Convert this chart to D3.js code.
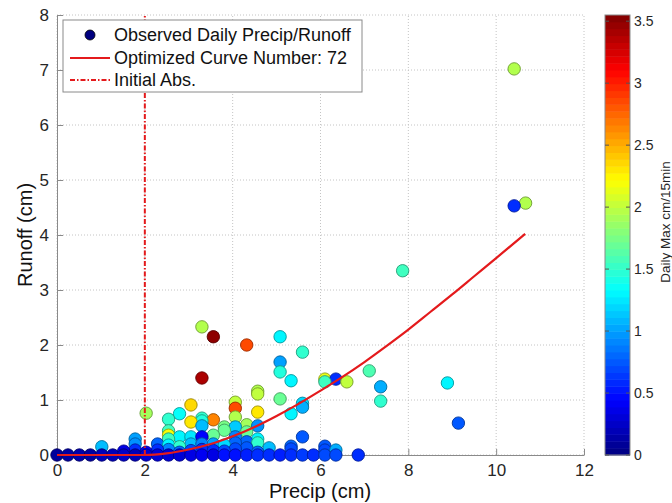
<!DOCTYPE html>
<html><head><meta charset="utf-8">
<script src="https://cdn.jsdelivr.net/npm/d3@7"></script>
<style>body{margin:0;background:#fff}svg{display:block;font-family:"Liberation Sans",Arial,sans-serif}</style>
</head><body><svg id="c" width="672" height="503"></svg>
<script>
// Observed points: precip (cm), runoff (cm), daily max intensity (cm/15min)
const precip = [
0,0.25,0.51,0.76,1.02,1.02,1.27,1.52,1.52,1.78,1.78,1.78,1.78,
2.03,2.03,2.03,2.29,2.29,2.29,
2.54,2.54,2.54,2.54,2.54,2.54,2.54,
2.79,2.79,2.79,2.79,2.79,
3.05,3.05,3.05,3.05,3.05,3.05,
3.30,3.30,3.30,3.30,3.30,3.30,3.30,3.30,3.30,
3.56,3.56,3.56,3.56,3.56,3.56,
3.81,3.81,3.81,3.81,3.81,
4.06,4.06,4.06,4.06,4.06,4.06,4.06,4.06,
4.32,4.32,4.32,4.32,4.32,4.32,
4.57,4.57,4.57,4.57,4.57,4.57,4.57,4.57,
4.83,4.83,
5.08,5.08,5.08,5.08,5.08,
5.33,5.33,5.33,5.33,5.33,
5.59,5.59,5.59,5.59,5.59,
5.84,
6.10,6.10,6.10,6.10,6.10,
6.35,6.35,6.35,
6.60,6.86,7.11,7.37,7.37,7.87,8.89,9.14,10.41,10.41,10.67];
const runoff = [
0,0,0,0,0,0.15,0,0,0.07,0,0.29,0.20,0.09,
0,0.76,0.05,0,0.20,0.09,
0,0.65,0.44,0.36,0.29,0.18,0.10,
0,0.75,0.33,0.15,0.05,
0,0.91,0.60,0.33,0.20,0.08,
0,2.33,1.40,0.67,0.62,0.53,0.33,0.20,0.10,
0,2.15,0.64,0.36,0.20,0.08,
0,0.51,0.45,0.18,0.07,
0,0.96,0.85,0.69,0.51,0.33,0.22,0.11,
0,2.00,0.55,0.42,0.24,0.13,
0,1.16,1.11,0.78,0.53,0.29,0.22,0.05,
0,0.13,
0,2.15,1.69,1.51,1.02,
0,1.35,0.75,0.16,0.11,
0,1.87,0.94,0.87,0.33,
0,
0,1.38,1.33,0.16,0.09,
0,1.38,0.09,
1.33,0,1.53,1.24,0.98,3.35,1.31,0.58,7.02,4.53,4.58];
const intensity = [
0.10,0.12,0.15,0.12,0.20,1.10,0.20,0.25,0.35,0.20,1.00,0.95,0.60,
0.30,1.90,0.40,0.30,0.80,0.60,
0.30,1.50,1.55,2.20,1.55,1.30,0.90,
0.30,1.35,1.30,1.50,0.80,
0.35,2.35,2.30,1.25,1.10,0.70,
0.40,1.95,3.40,1.50,1.45,1.10,0.45,0.90,0.60,
0.35,3.50,2.65,1.70,1.00,0.60,
0.50,1.75,1.70,1.20,0.70,
0.50,2.00,2.85,1.95,1.15,0.90,0.80,0.70,
0.55,2.85,1.90,1.70,0.80,0.75,
0.60,1.95,2.00,2.30,0.95,1.30,1.50,0.80,
0.60,1.10,
0.55,1.30,1.00,1.45,1.70,
0.60,1.30,1.30,0.80,0.70,
0.65,1.50,1.20,1.05,0.75,
0.60,
0.70,2.15,1.55,0.75,0.70,
0.70,0.60,1.05,
2.00,0.60,1.60,1.05,1.50,1.55,1.30,0.75,1.95,0.60,1.95];

// Optimized curve (CN 72)
const curvePrecip = [0,1.0,2.0,2.5,3.0,3.5,4.0,4.5,5.0,5.5,6.0,6.5,7.0,7.5,8.0,8.5,9.0,9.5,10.0,10.66];
const curveRunoff = [0,0,0,0.03,0.10,0.20,0.34,0.51,0.71,0.93,1.17,1.42,1.69,1.98,2.28,2.60,2.92,3.25,3.58,4.02];
const initialAbs = 2.0;

const xTicks = [0,2,4,6,8,10,12];
const yTicks = [0,1,2,3,4,5,6,7,8];
const cTicks = [0,0.5,1,1.5,2,2.5,3,3.5];
const legendLabels = ["Observed Daily Precip/Runoff","Optimized Curve Number: 72","Initial Abs."];

const svg = d3.select("#c");
const x = d3.scaleLinear().domain([0,12]).range([57,584]);
const y = d3.scaleLinear().domain([0,8]).range([455,15]);
const cmax = 3.55;
const cs = d3.scaleLinear().domain([0,cmax]).range([455,15]);
const clamp = v => Math.max(0, Math.min(1, v));
function jet(t){
  const r = clamp(Math.min(4*t-1.5, -4*t+4.5));
  const g = clamp(Math.min(4*t-0.5, -4*t+3.5));
  const b = clamp(Math.min(4*t+0.5, -4*t+2.5));
  return d3.rgb(r*255, g*255, b*255);
}
const color = c => jet(clamp(c/cmax));

// grid
const grid = svg.append("g").attr("stroke","#c4c4c4").attr("stroke-dasharray","1,2").attr("stroke-width",1);
xTicks.forEach(t => grid.append("line").attr("x1",x(t)).attr("x2",x(t)).attr("y1",y(0)).attr("y2",y(8)));
yTicks.forEach(t => grid.append("line").attr("x1",x(0)).attr("x2",x(12)).attr("y1",y(t)).attr("y2",y(t)));

// axes
const xAxis = d3.axisBottom(x).tickValues(xTicks).tickSizeInner(-6).tickSizeOuter(0).tickPadding(9);
const yAxis = d3.axisLeft(y).tickValues(yTicks).tickSizeInner(-6).tickSizeOuter(0).tickPadding(8);
const gx = svg.append("g").attr("transform",`translate(0,${y(0)})`).call(xAxis);
const gy = svg.append("g").attr("transform",`translate(${x(0)},0)`).call(yAxis);
[gx,gy].forEach(g=>{
  g.select(".domain").attr("stroke","#8a8a8a");
  g.selectAll(".tick line").attr("stroke","#8a8a8a");
  g.selectAll("text").attr("fill","#262626").attr("font-size",17).attr("font-family","Liberation Sans, Arial, sans-serif");
});

// points
const pts = precip.map((p,i)=>({p, q:runoff[i], c:intensity[i]}));
pts.sort((a,b)=>b.q-a.q);
svg.append("g").selectAll("circle").data(pts).join("circle")
  .attr("cx",d=>x(d.p)).attr("cy",d=>y(d.q)).attr("r",6.2)
  .attr("fill",d=>color(d.c))
  .attr("stroke",d=>color(d.c).darker(1.4))
  .attr("stroke-width",0.9);

// curve
const line = d3.line().x((d,i)=>x(curvePrecip[i])).y((d,i)=>y(curveRunoff[i])).curve(d3.curveMonotoneX);
svg.append("path").attr("d",line(curvePrecip)).attr("fill","none").attr("stroke","#e41a1c").attr("stroke-width",2.2);

// initial abstraction
svg.append("line").attr("x1",x(initialAbs)).attr("x2",x(initialAbs)).attr("y1",y(0)).attr("y2",y(8))
  .attr("stroke","#e41a1c").attr("stroke-width",2).attr("stroke-dasharray","5,2,1.5,2");

// legend
const lg = svg.append("g");
lg.append("rect").attr("x",63).attr("y",20).attr("width",299).attr("height",72).attr("fill","#fff").attr("stroke","#8a8a8a");
lg.append("circle").attr("cx",90).attr("cy",35).attr("r",5).attr("fill",jet(0)).attr("stroke","#000").attr("stroke-width",0.8);
lg.append("line").attr("x1",70).attr("x2",110).attr("y1",58).attr("y2",58).attr("stroke","#e41a1c").attr("stroke-width",2);
lg.append("line").attr("x1",70).attr("x2",110).attr("y1",80).attr("y2",80).attr("stroke","#e41a1c").attr("stroke-width",2).attr("stroke-dasharray","5,2,1.5,2");
legendLabels.forEach((t,i)=>lg.append("text").attr("x",114).attr("y",[35,58,80][i]).attr("dy","0.35em")
  .attr("font-size",18).attr("fill","#111").text(t));

// axis titles
svg.append("text").attr("x",320).attr("y",491).attr("dy","0.35em").attr("text-anchor","middle").attr("font-size",20).attr("fill","#111").text("Precip (cm)");
svg.append("text").attr("transform","translate(25,235) rotate(-90)").attr("dy","0.35em").attr("text-anchor","middle").attr("font-size",20).attr("fill","#111").text("Runoff (cm)");

// colorbar
const cb = svg.append("g");
const nb = 64;
const bands = d3.range(nb);
cb.selectAll("rect.b").data(bands).join("rect").attr("class","b")
  .attr("x",605).attr("width",25)
  .attr("y",i=>cs((i+1)*cmax/nb)).attr("height",i=>cs(i*cmax/nb)-cs((i+1)*cmax/nb)+0.5)
  .attr("fill",i=>jet((i+0.5)/nb));
cb.append("rect").attr("x",605).attr("y",15).attr("width",25).attr("height",440).attr("fill","none").attr("stroke","#8a8a8a");
cTicks.forEach(t=>{
  cb.append("line").attr("x1",605).attr("x2",609).attr("y1",cs(t)).attr("y2",cs(t)).attr("stroke","#555");
  cb.append("line").attr("x1",626).attr("x2",630).attr("y1",cs(t)).attr("y2",cs(t)).attr("stroke","#555");
  cb.append("text").attr("x",634).attr("y",cs(t)).attr("dy","0.35em").attr("font-size",14).attr("fill","#262626").text(t);
});
svg.append("text").attr("transform","translate(665,222) rotate(-90)").attr("dy","0.35em").attr("text-anchor","middle").attr("font-size",13.5).attr("fill","#262626").text("Daily Max cm/15min");
</script></body></html>
